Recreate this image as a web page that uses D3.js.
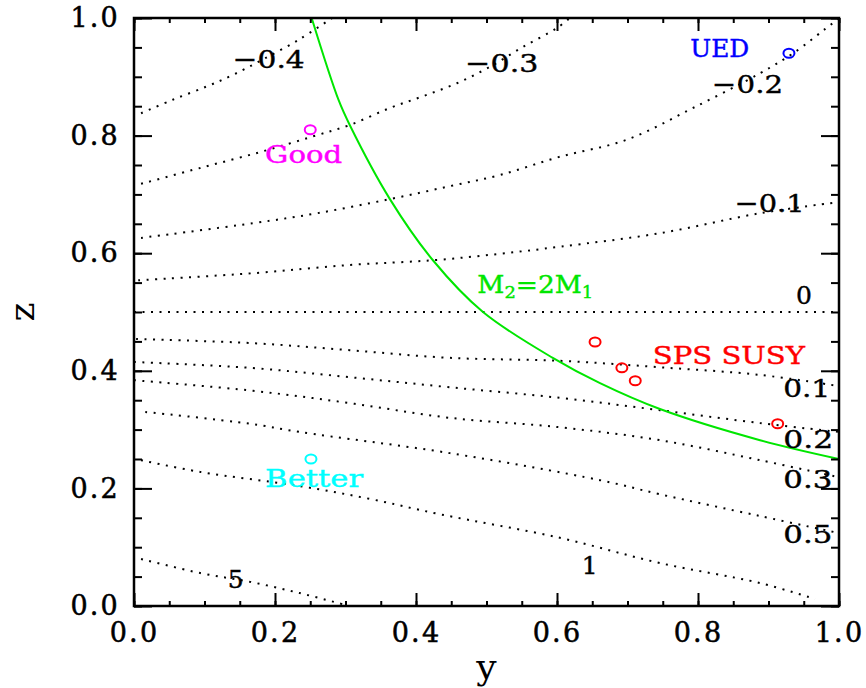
<!DOCTYPE html>
<html>
<head>
<meta charset="utf-8">
<script src="https://cdn.jsdelivr.net/npm/d3@7"></script>
<style>
body { margin: 0; background: #fff; }
svg { display: block; font-family: "DejaVu Serif", serif; }
</style>
</head>
<body>
<div id="chart"></div>
<script>
// contour curves, [y, z]
var lineM04 = [[0.010, 0.838], [0.055, 0.861], [0.104, 0.884], [0.140, 0.903], [0.182, 0.929], [0.235, 0.964], [0.281, 1.0]];
var lineM03 = [[0.010, 0.718], [0.094, 0.745], [0.179, 0.772], [0.252, 0.798], [0.306, 0.818], [0.363, 0.847], [0.410, 0.867], [0.458, 0.889], [0.505, 0.917], [0.552, 0.951], [0.600, 0.983], [0.618, 1.0]];
var lineM02 = [[0.010, 0.626], [0.169, 0.651], [0.260, 0.668], [0.363, 0.692], [0.448, 0.714], [0.519, 0.733], [0.604, 0.764], [0.699, 0.793], [0.793, 0.847], [0.888, 0.906], [0.935, 0.940], [0.991, 0.991], [1.0, 0.998]];
var lineM01 = [[0.006, 0.554], [0.169, 0.566], [0.306, 0.580], [0.424, 0.588], [0.519, 0.599], [0.604, 0.611], [0.746, 0.634], [0.888, 0.668], [1.0, 0.687]];
var line0 = [[0.0, 0.5], [1.0, 0.5]];
var line01 = [[0.003, 0.454], [0.169, 0.447], [0.306, 0.435], [0.448, 0.422], [0.604, 0.417], [0.746, 0.406], [0.888, 0.393], [1.0, 0.374]];
var line02 = [[0.0, 0.415], [0.165, 0.405], [0.307, 0.389], [0.448, 0.372], [0.604, 0.354], [0.746, 0.333], [0.888, 0.311], [1.0, 0.296]];
var line03 = [[0.0, 0.384], [0.169, 0.366], [0.306, 0.345], [0.448, 0.320], [0.604, 0.304], [0.746, 0.282], [0.888, 0.248], [1.0, 0.219]];
var line05 = [[0.016, 0.330], [0.165, 0.310], [0.235, 0.296], [0.448, 0.260], [0.661, 0.214], [0.746, 0.190], [0.888, 0.153], [1.0, 0.124]];
var line1 = [[0.010, 0.248], [0.094, 0.228], [0.235, 0.204], [0.335, 0.182], [0.434, 0.156], [0.604, 0.116], [0.746, 0.073], [0.888, 0.039], [0.966, 0.012]];
var line5 = [[0.010, 0.080], [0.094, 0.056], [0.165, 0.041], [0.235, 0.022], [0.299, 0.002]];

var contourLabels = ["\u22120.4", "\u22120.3", "\u22120.2", "\u22120.1", "0", "0.1", "0.2", "0.3", "0.5", "1", "5"];
var contourLabelAt = [[0.140, 0.915], [0.470, 0.908], [0.820, 0.872], [0.852, 0.670], [0.939, 0.514],
    [0.921, 0.355], [0.921, 0.269], [0.921, 0.201], [0.921, 0.107], [0.635, 0.054], [0.133, 0.031]];

// M2 = 2 M1 curve
var massY = [0.252, 0.29, 0.306, 0.363, 0.424, 0.495, 0.594, 0.661, 0.746, 0.888, 1.0];
var massZ = [1.0, 0.861, 0.818, 0.692, 0.588, 0.5, 0.422, 0.379, 0.335, 0.282, 0.25];

// model points
var goodPts = [[0.250, 0.810]];
var betterPts = [[0.251, 0.250]];
var uedPts = [[0.929, 0.940]];
var spsPts = [[0.654, 0.449], [0.692, 0.405], [0.711, 0.383], [0.913, 0.310]];

var majorTicks = [0, 0.2, 0.4, 0.6, 0.8, 1.0];
var minorTicks = d3.range(0, 21).map(function (i) { return i / 20; });

var W = 866, H = 688;
var padL = 134, padR = 839, padT = 18, padB = 606;

var x = d3.scaleLinear().domain([0, 1]).range([padL, padR]);
var z = d3.scaleLinear().domain([0, 1]).range([padB, padT]);

var svg = d3.select("#chart").append("svg")
    .attr("width", W)
    .attr("height", H);

svg.append("defs").append("clipPath").attr("id", "plot")
    .append("rect")
    .attr("x", padL).attr("y", padT)
    .attr("width", padR - padL).attr("height", padB - padT);

var line = d3.line()
    .x(function (d) { return x(d[0]); })
    .y(function (d) { return z(d[1]); })
    .curve(d3.curveCatmullRom);

var contours = [lineM04, lineM03, lineM02, lineM01, line0, line01, line02, line03, line05, line1, line5];

var plot = svg.append("g").attr("clip-path", "url(#plot)");

plot.selectAll(".contour")
    .data(contours)
    .enter()
    .append("path")
    .attr("class", "contour")
    .attr("d", line)
    .attr("fill", "none")
    .attr("stroke", "#000")
    .attr("stroke-width", 2)
    .attr("stroke-dasharray", "2,6.5");

var massPts = massY.map(function (v, i) { return [v, massZ[i]]; });
plot.append("path")
    .attr("d", line(massPts))
    .attr("fill", "none")
    .attr("stroke", "#00e600")
    .attr("stroke-width", 2);

// axes, ticks inward on all four sides
function drawAxis(make, tr, majorLen, minorLen, labels, pad) {
    var gMinor = svg.append("g").attr("transform", tr)
        .call(make().tickValues(minorTicks).tickSize(-minorLen).tickFormat(""));
    gMinor.select(".domain").remove();
    var gMajor = svg.append("g").attr("transform", tr)
        .call(make().tickValues(majorTicks).tickSize(-majorLen).tickPadding(pad)
            .tickFormat(labels ? d3.format(".1f") : ""));
    gMajor.select(".domain").remove();
    [gMinor, gMajor].forEach(function (g) {
        g.selectAll("line").attr("stroke-width", 2);
        g.attr("font-family", "DejaVu Serif").attr("font-size", 27);
        g.selectAll("text")
            .attr("fill", "#000")
            .attr("stroke", "#000")
            .attr("stroke-width", 0.5)
            .style("letter-spacing", "2.2px");
    });
}
drawAxis(function () { return d3.axisBottom(x); }, "translate(0," + padB + ")", 13, 5, true, 17);
drawAxis(function () { return d3.axisTop(x); }, "translate(0," + padT + ")", 13, 5, false, 3);
drawAxis(function () { return d3.axisLeft(z); }, "translate(" + padL + ",0)", 18, 8, true, 14);
drawAxis(function () { return d3.axisRight(z); }, "translate(" + padR + ",0)", 18, 8, false, 3);

svg.append("rect")
    .attr("x", padL).attr("y", padT)
    .attr("width", padR - padL).attr("height", padB - padT)
    .attr("fill", "none")
    .attr("stroke", "#000")
    .attr("stroke-width", 2.5);

// axis titles
svg.append("text")
    .attr("x", (padL + padR) / 2)
    .attr("y", 679)
    .attr("text-anchor", "middle")
    .attr("font-size", 36)
    .text("y");

svg.append("text")
    .attr("transform", "translate(34," + (padT + padB) / 2 + ") rotate(-90)")
    .attr("text-anchor", "middle")
    .attr("font-size", 36)
    .text("z");

// contour labels
var labelWidths = [72, 73, 71, 70, null, 47, 50, 49, 49, null, null];
svg.selectAll(".clabel")
    .data(contourLabels)
    .enter()
    .append("text")
    .attr("class", "clabel")
    .attr("x", function (d, i) { return x(contourLabelAt[i][0]); })
    .attr("y", function (d, i) { return z(contourLabelAt[i][1]); })
    .attr("font-size", 25)
    .attr("stroke", "#000")
    .attr("stroke-width", 0.4)
    .attr("textLength", function (d, i) { return labelWidths[i]; })
    .attr("lengthAdjust", "spacingAndGlyphs")
    .text(function (d) { return d; });

// model markers
function markers(pts, color) {
    svg.selectAll(null)
        .data(pts)
        .enter()
        .append("ellipse")
        .attr("cx", function (d) { return x(d[0]); })
        .attr("cy", function (d) { return z(d[1]); })
        .attr("rx", 5.5)
        .attr("ry", 4.5)
        .attr("fill", "none")
        .attr("stroke", color)
        .attr("stroke-width", 2);
}
markers(goodPts, "#ff00ff");
markers(betterPts, "#00ffff");
markers(uedPts, "#0000ff");
markers(spsPts, "#ff0000");

function tag(txt, at, color, width) {
    svg.append("text")
        .attr("x", x(at[0]))
        .attr("y", z(at[1]))
        .attr("font-size", 24)
        .attr("fill", color)
        .attr("stroke", color)
        .attr("stroke-width", 0.4)
        .attr("textLength", width)
        .attr("lengthAdjust", "spacingAndGlyphs")
        .text(txt);
}
tag("Good", [0.186, 0.753], "#ff00ff", 77);
tag("Better", [0.186, 0.202], "#00ffff", 98);
tag("UED", [0.789, 0.934], "#0000ff", 59);
tag("SPS  SUSY", [0.736, 0.412], "#ff0000", 152);

var mLabel = svg.append("text")
    .attr("x", x(0.487))
    .attr("y", z(0.532))
    .attr("font-size", 25)
    .attr("fill", "#00e600")
    .attr("stroke", "#00e600")
    .attr("stroke-width", 0.4)
    .attr("textLength", 116)
    .attr("lengthAdjust", "spacingAndGlyphs");
mLabel.append("tspan").text("M");
mLabel.append("tspan").attr("font-size", 17).attr("dy", 5).text("2");
mLabel.append("tspan").attr("dy", -5).text("=2M");
mLabel.append("tspan").attr("font-size", 17).attr("dy", 5).text("1");
</script>
</body>
</html>
